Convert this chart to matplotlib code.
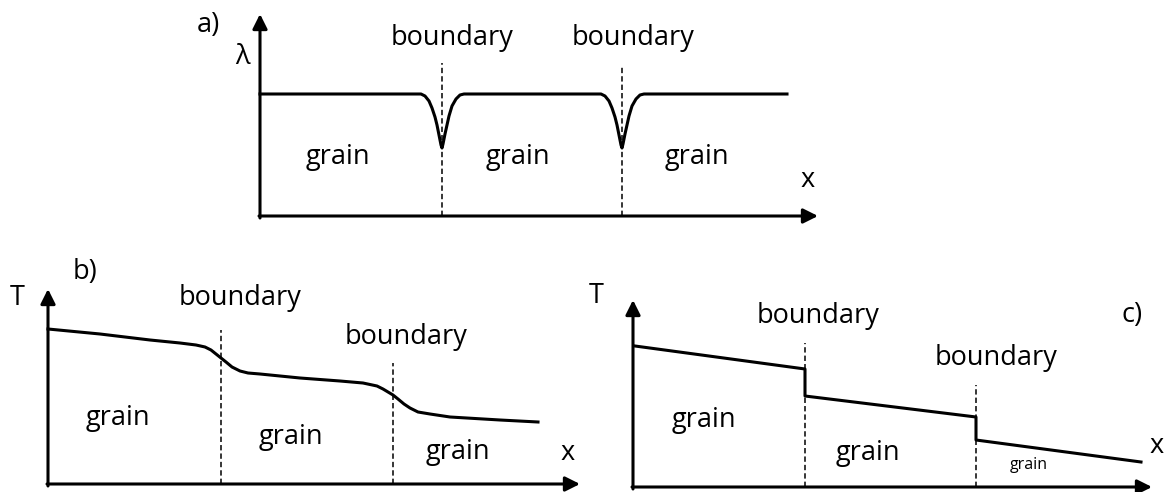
import matplotlib.pyplot as plt

plt.rcParams['font.family'] = ['Open Sans', 'DejaVu Sans']

# Panel a: lambda profile (units = pixels from the axis origin)
a_bounds = [182, 362]
a_level = 122
a_dip_dx = [-21, -17, -13, -10, -7, -5, -3, -1, 0, 1, 3, 5, 7, 10, 14, 18, 22]
a_dip_depth = [0, 2, 7, 14, 23, 31, 41, 51, 54, 50, 40, 31, 22, 12, 5, 1, 0]
a_end = 527
a_dash_top = [153, 149]

# Panel b: smooth temperature profile
b_x = [0, 52, 102, 132, 148, 157, 163, 168, 173, 178, 184, 192, 200, 212, 252,
       292, 315, 329, 335, 340, 345, 350, 356, 362, 370, 382, 402, 452, 490]
b_y = [155, 150, 144, 141, 139, 137, 134, 130, 126, 122, 117, 113, 111, 110, 106,
       103, 101, 98, 95, 92, 89, 85, 80, 76, 72, 70, 67, 64, 62]
b_bounds = [173, 345]
b_dash_top = [154, 121]

# Panel c: temperature with jumps at boundaries
c_x = [2, 172, 172, 343, 343, 508]
c_y = [141, 118, 91, 70, 47, 25]
c_bounds = [172, 343]
c_dash_top = [144, 102]

W, H = 1166, 492
fig = plt.figure(figsize=(W / 100, H / 100), dpi=100)


def panel(x0, y0, w, h):
    ax = fig.add_axes([x0 / W, (H - y0) / H, w / W, h / H])
    ax.set_xlim(0, w)
    ax.set_ylim(0, h)
    ax.axis('off')
    arrow = dict(arrowstyle='-|>', lw=2.2, color='black', mutation_scale=22,
                 shrinkA=0, shrinkB=0)
    ax.annotate('', xy=(0, h), xytext=(0, -2), arrowprops=arrow, annotation_clip=False)
    ax.annotate('', xy=(w, 0), xytext=(-1, 0), arrowprops=arrow, annotation_clip=False)
    return ax


def dashes(ax, xs, tops):
    for x, t in zip(xs, tops):
        ax.plot([x, x], [0, t], color='black', lw=1.1, ls=(0, (3.5, 2)), clip_on=False)


def txt(ax, x, y, s, size=19.5):
    ax.text(x, y, s, fontsize=size, ha='center', va='center', clip_on=False)


# ---- a)
ax = panel(260, 216, 558, 202)
xs, ys = [0], [a_level]
for b in a_bounds:
    for dx, d in zip(a_dip_dx, a_dip_depth):
        xs.append(b + dx)
        ys.append(a_level - d)
xs.append(a_end)
ys.append(a_level)
ax.plot(xs, ys, color='black', lw=2.2, clip_on=False, solid_joinstyle='round')
dashes(ax, a_bounds, a_dash_top)
txt(ax, -52, 191, 'a)')
txt(ax, -18, 159, 'λ')
txt(ax, 192, 178, 'boundary')
txt(ax, 373, 178, 'boundary')
for gx in [78, 258, 437]:
    txt(ax, gx, 59, 'grain')
txt(ax, 548, 36, 'x')

# ---- b)
ax = panel(48, 484, 532, 195)
ax.plot(b_x, b_y, color='black', lw=2.2, clip_on=False, solid_joinstyle='round')
dashes(ax, b_bounds, b_dash_top)
txt(ax, 37, 212, 'b)')
txt(ax, -31, 186, 'T')
txt(ax, 192, 186, 'boundary')
txt(ax, 358, 147, 'boundary')
txt(ax, 70, 66, 'grain')
txt(ax, 243, 47, 'grain')
txt(ax, 410, 32, 'grain')
txt(ax, 520, 31, 'x')

# ---- c)
ax = panel(633, 487, 519, 187)
ax.plot(c_x, c_y, color='black', lw=2.2, clip_on=False)
dashes(ax, c_bounds, c_dash_top)
txt(ax, -37, 191, 'T')
txt(ax, 185, 171, 'boundary')
txt(ax, 363, 129, 'boundary')
txt(ax, 499, 172, 'c)')
txt(ax, 71, 67, 'grain')
txt(ax, 235, 34, 'grain')
txt(ax, 396, 22, 'grain', size=11.5)
txt(ax, 524, 41, 'x')

fig.savefig('out.png', dpi=100)
